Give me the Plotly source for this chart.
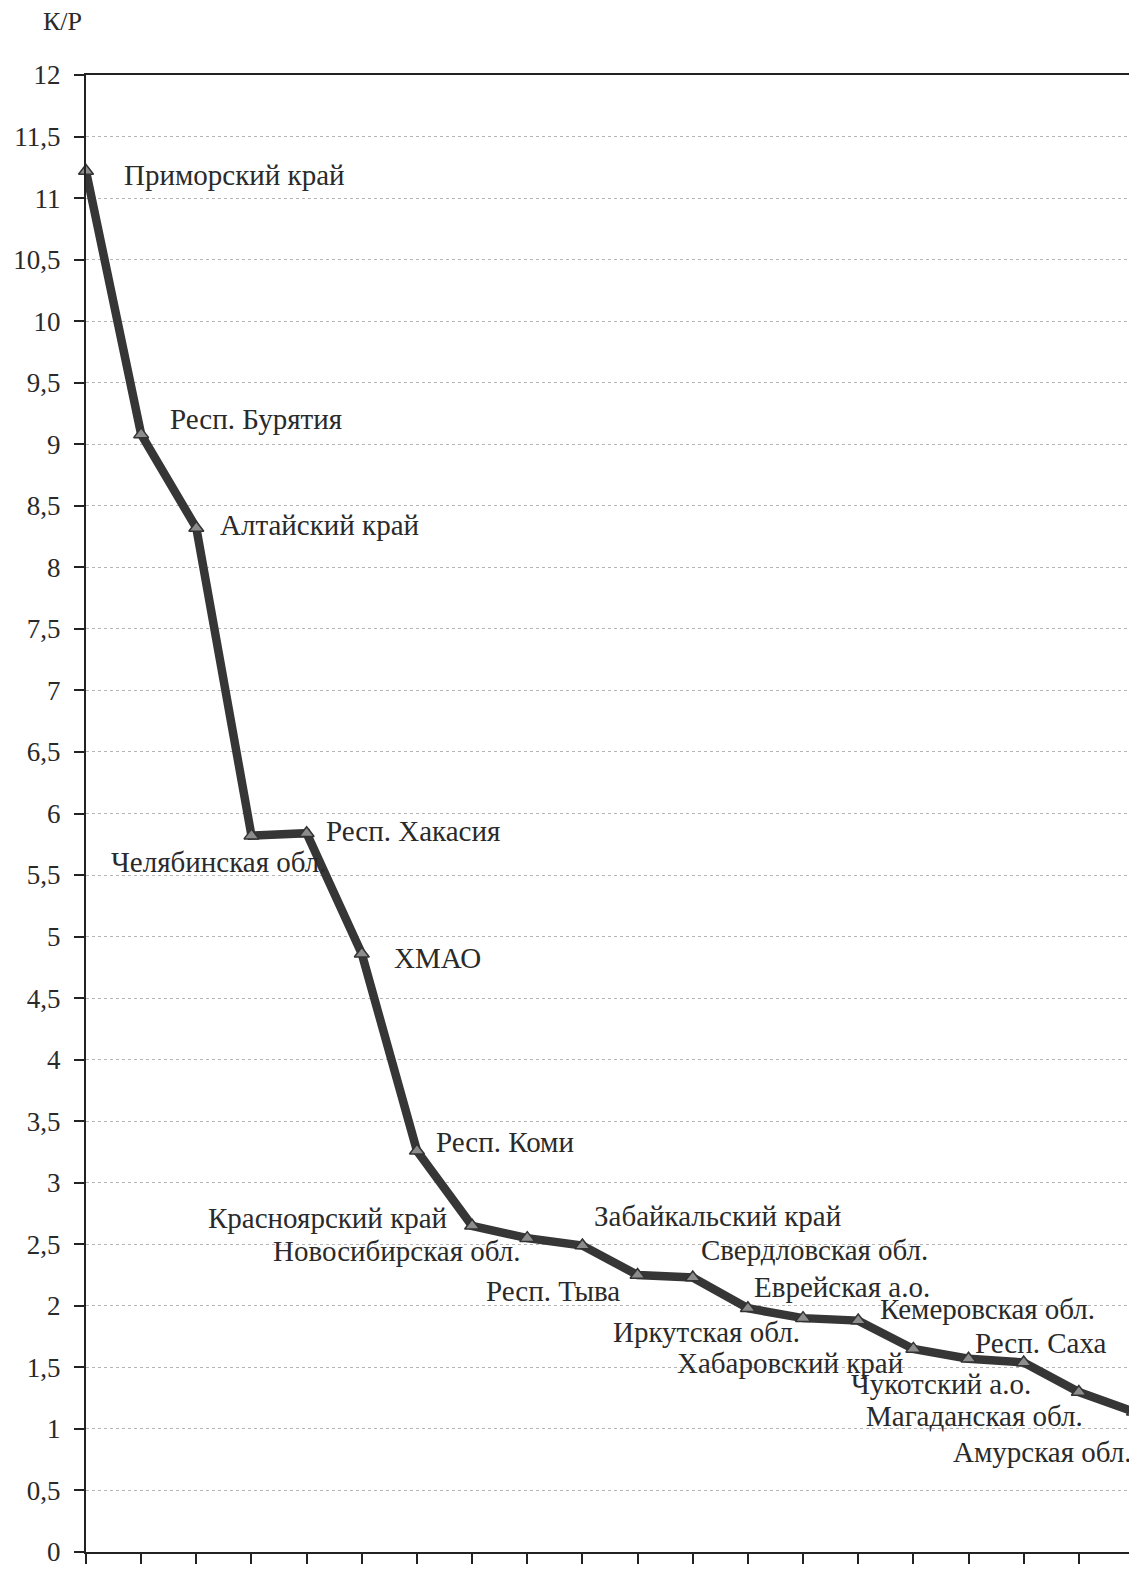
import plotly.graph_objects as go

regions = [
    "Приморский край", "Респ. Бурятия", "Алтайский край", "Челябинская обл.",
    "Респ. Хакасия", "ХМАО", "Респ. Коми", "Красноярский край",
    "Новосибирская обл.", "Респ. Тыва", "Забайкальский край", "Иркутская обл.",
    "Свердловская обл.", "Хабаровский край", "Еврейская а.о.", "Чукотский а.о.",
    "Кемеровская обл.", "Респ. Саха", "Магаданская обл.", "Амурская обл.",
]
kr_values = [
    11.22, 9.08, 8.32, 5.82, 5.84, 4.86, 3.26, 2.65, 2.55, 2.49,
    2.25, 2.23, 1.98, 1.90, 1.88, 1.65, 1.57, 1.54, 1.30, 1.14,
]
y_tick_values = [i * 0.5 for i in range(25)]
y_tick_labels = [("%g" % v).replace(".", ",") for v in y_tick_values]

# label placement relative to each point: (xanchor, xshift px, yshift px)
label_layout = [
    ("left", 36, -4), ("left", 27, 15), ("left", 22, 3), ("right", 78, -26),
    ("left", 17, 2), ("left", 30, -4), ("left", 17, 9), ("right", -23, 8),
    ("right", -4, -13), ("right", 40, -45), ("left", -46, 59), ("center", 14, -54),
    ("left", -49, 58), ("center", -13, -45), ("center", -16, 34), ("center", 28, -35),
    ("center", 19, 50), ("center", 17, 19), ("right", 6, -24), ("right", 0, -40),
]

FONT = "Liberation Serif, Times New Roman, serif"
TXT = "#2a2a2a"

# the page body has an 8px margin; size the figure so the drawing lands in place
W, H = 1129, 1561
ML, MR, MT, MB = 78, 3, 67, 17

xs = list(range(len(regions)))
fig = go.Figure()
fig.add_trace(go.Scatter(
    x=xs, y=kr_values, mode="lines+markers",
    line=dict(color="#363636", width=8.5),
    marker=dict(symbol="triangle-up", size=13, color="#8c8c8c",
                line=dict(color="#333333", width=1.5)),
    cliponaxis=False, hoverinfo="skip", showlegend=False,
))

annotations = []
for i, (name, v) in enumerate(zip(regions, kr_values)):
    xa, dx, dy = label_layout[i]
    annotations.append(dict(
        x=i, y=v, xref="x", yref="y", text=name, showarrow=False,
        xanchor=xa, yanchor="middle", xshift=dx, yshift=dy,
        font=dict(family=FONT, size=29, color=TXT),
    ))
annotations.append(dict(
    x=(54 - ML) / (W - ML - MR), y=1 + (MT - 14) / (H - MT - MB),
    xref="paper", yref="paper", text="К/Р", showarrow=False,
    xanchor="center", yanchor="middle",
    font=dict(family=FONT, size=26, color=TXT),
))

fig.update_layout(
    width=W, height=H,
    margin=dict(l=ML, r=MR, t=MT, b=MB, autoexpand=False),
    paper_bgcolor="white", plot_bgcolor="white",
    annotations=annotations,
    font=dict(family=FONT, size=26, color=TXT),
)
fig.update_xaxes(
    range=[0, len(regions) - 1], tickvals=xs, showticklabels=False,
    ticks="outside", ticklen=10, tickwidth=2, tickcolor="#222",
    showline=True, linecolor="#222", linewidth=2, mirror=True,
    showgrid=False, zeroline=False, automargin=False,
)
fig.update_yaxes(
    range=[0, 12], tickvals=y_tick_values, ticktext=y_tick_labels,
    ticks="outside", ticklen=10, tickwidth=2, tickcolor="#222",
    ticklabelstandoff=8, ticklabeloverflow="allow",
    tickfont=dict(family=FONT, size=27, color=TXT),
    showline=True, linecolor="#222", linewidth=2, mirror=True,
    showgrid=True, gridcolor="#b5b5b5", gridwidth=1, griddash="dot",
    zeroline=False, automargin=False,
)

fig.write_html("out.html")
